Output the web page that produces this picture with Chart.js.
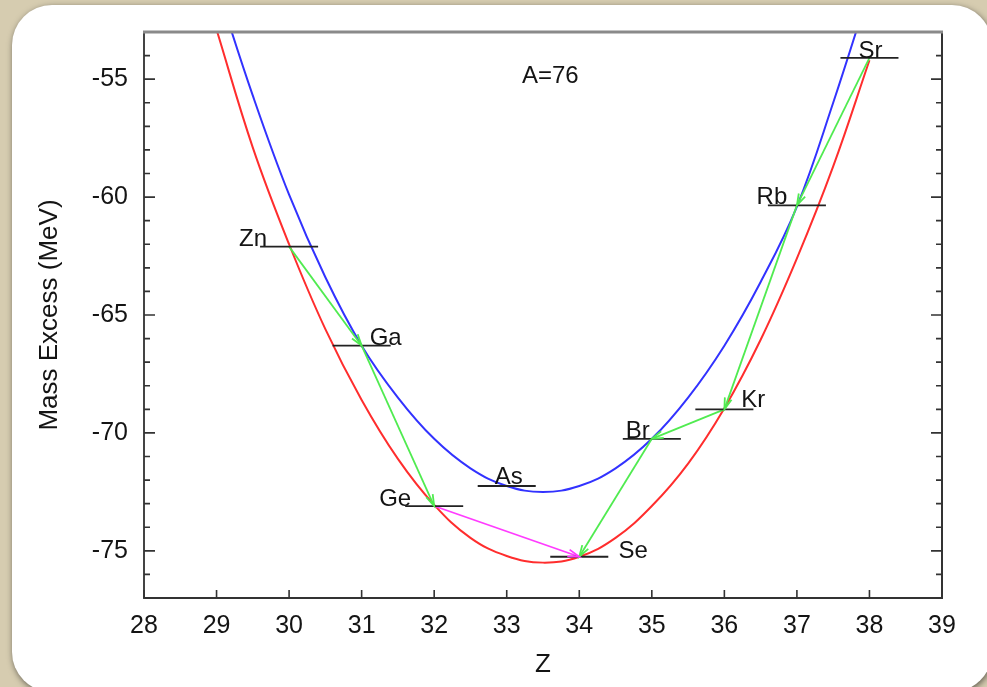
<!DOCTYPE html>
<html>
<head>
<meta charset="utf-8">
<script src="https://cdn.jsdelivr.net/npm/chart.js@4.4.1/dist/chart.umd.min.js"></script>
<style>
  html, body { margin: 0; padding: 0; }
  body { width: 987px; height: 687px; background: #d6ccb0; overflow: hidden; position: relative; }
  #panel { position: absolute; left: 12px; top: 5px; width: 980px; height: 687px; background: #fff;
           border-radius: 40px; box-shadow: 1px 2px 6px rgba(0,0,0,0.55); }
  #wrap { position: absolute; left: 0; top: 0; width: 987px; height: 687px; }
  #massChart { filter: blur(0.5px); }
</style>
</head>
<body>
<div id="panel"></div>
<div id="wrap"><canvas id="massChart" width="987" height="687"></canvas></div>
<script>
// isobars A=76
let elements = ["Zn", "Ga", "Ge", "As", "Se", "Br", "Kr", "Rb", "Sr"];
let zValues = [30, 31, 32, 33, 34, 35, 36, 37, 38];
let massExcess = [-62.1, -66.3, -73.1, -72.25, -75.25, -70.25, -69.0, -60.35, -54.1];

// parabolas
let zCurve = [29, 29.5, 30, 30.5, 31, 31.5, 32, 32.5, 33, 33.5, 34, 34.5, 35, 35.5, 36, 36.5, 37, 37.5, 38];
let evenEven = [-52.9, -57.9, -62.0, -65.6, -68.6, -71.1, -73.05, -74.45, -75.22, -75.5, -75.25, -74.45, -73.1, -71.3, -68.95, -66.05, -62.6, -58.7, -54.2];
let oddOdd = [-51.0, -55.7, -59.9, -63.4, -66.3, -68.5, -70.25, -71.5, -72.25, -72.5, -72.25, -71.5, -70.25, -68.5, -66.3, -63.6, -60.4, -56.0, -51.2];

// decays, [from, to] as index in elements
let betaDecays = [[0, 1], [1, 2], [5, 4], [6, 5], [7, 6], [8, 7]];
let doubleBeta = [[2, 4]];

// label offsets in px from the level centre
let labelDX = [-36, 24, -39, 2, 54, -14, 29, -25, 1];
let labelDY = [-1, -1, 0, -2, 1, -1, -2, -1, 0];

let fontFam = "'Liberation Sans', Arial, sans-serif";
let textCol = "#141414";

let datasets = [];

elements.forEach(function(el, i) {
    datasets.push({
        data: [{x: zValues[i] - 0.4, y: massExcess[i]}, {x: zValues[i] + 0.4, y: massExcess[i]}],
        borderColor: "#222",
        borderWidth: 1.8,
        pointRadius: 0
    });
});

function arrowSet(pair, colore) {
    return {
        data: [{x: zValues[pair[0]], y: massExcess[pair[0]]}, {x: zValues[pair[1]], y: massExcess[pair[1]]}],
        borderColor: colore,
        borderWidth: 1.8,
        pointRadius: 0,
        arrow: true
    };
}
betaDecays.forEach(function(p) { datasets.push(arrowSet(p, "rgb(80,235,80)")); });
doubleBeta.forEach(function(p) { datasets.push(arrowSet(p, "rgb(255,60,255)")); });

datasets.push({
    data: zCurve.map(function(z, i) { return {x: z, y: oddOdd[i]}; }),
    borderColor: "rgb(50,50,255)",
    borderWidth: 2,
    pointRadius: 0,
    tension: 0.4
});
datasets.push({
    data: zCurve.map(function(z, i) { return {x: z, y: evenEven[i]}; }),
    borderColor: "rgb(255,45,45)",
    borderWidth: 2,
    pointRadius: 0,
    tension: 0.4
});

var framePlugin = {
    id: "frame",
    afterDatasetsDraw(chart) {
        const ctx = chart.ctx;
        const a = chart.chartArea;
        const x = chart.scales.x, y = chart.scales.y;

        // arrow heads
        chart.data.datasets.forEach(function(ds, i) {
            if (!ds.arrow) return;
            const pts = chart.getDatasetMeta(i).data;
            const p0 = pts[0], p1 = pts[1];
            const ang = Math.atan2(p1.y - p0.y, p1.x - p0.x);
            const len = 12, spread = 0.3;
            ctx.save();
            ctx.strokeStyle = ds.borderColor;
            ctx.lineWidth = 1.8;
            ctx.beginPath();
            ctx.moveTo(p1.x - len * Math.cos(ang - spread), p1.y - len * Math.sin(ang - spread));
            ctx.lineTo(p1.x, p1.y);
            ctx.lineTo(p1.x - len * Math.cos(ang + spread), p1.y - len * Math.sin(ang + spread));
            ctx.stroke();
            ctx.restore();
        });

        // element names
        ctx.save();
        ctx.fillStyle = textCol;
        ctx.font = "24px " + fontFam;
        ctx.textAlign = "center";
        ctx.textBaseline = "alphabetic";
        elements.forEach(function(el, i) {
            ctx.fillText(el, x.getPixelForValue(zValues[i]) + labelDX[i], y.getPixelForValue(massExcess[i]) + labelDY[i]);
        });
        ctx.textBaseline = "middle";
        ctx.fillText("A=76", x.getPixelForValue(33.6), y.getPixelForValue(-54.9));
        ctx.restore();

        // inside ticks
        ctx.save();
        ctx.strokeStyle = "#333";
        ctx.lineWidth = 1.6;
        ctx.beginPath();
        y.ticks.forEach(function(t) {
            const py = y.getPixelForValue(t.value);
            const l = t.value % 5 === 0 ? 11 : 6;
            ctx.moveTo(a.left, py); ctx.lineTo(a.left + l, py);
            ctx.moveTo(a.right, py); ctx.lineTo(a.right - l, py);
        });
        x.ticks.forEach(function(t) {
            const px = x.getPixelForValue(t.value);
            ctx.moveTo(px, a.bottom); ctx.lineTo(px, a.bottom - 8);
        });
        ctx.stroke();
        ctx.lineWidth = 2;
        ctx.beginPath();
        ctx.moveTo(a.right, a.top); ctx.lineTo(a.right, a.bottom);
        ctx.stroke();
        ctx.strokeStyle = "#8a8a8a";
        ctx.lineWidth = 3;
        ctx.beginPath();
        ctx.moveTo(a.left - 1, a.top); ctx.lineTo(a.right + 1, a.top);
        ctx.stroke();
        ctx.restore();
    }
};

var ctx = document.getElementById("massChart").getContext("2d");

var massChart = new Chart(ctx, {
    type: "scatter",
    data: { datasets: datasets },
    options: {
        responsive: false,
        animation: false,
        showLine: true,
        layout: { padding: { top: 32, right: 45, left: 0, bottom: 0 } },
        plugins: { legend: { display: false }, tooltip: { enabled: false } },
        scales: {
            x: {
                type: "linear",
                min: 28,
                max: 39,
                afterFit: function(s) { s.height = 89; },
                grid: { display: false, drawTicks: false },
                border: { display: true, color: "#333", width: 2 },
                ticks: { stepSize: 1, autoSkip: false, padding: 13, color: textCol, font: { family: fontFam, size: 25 } },
                title: { display: true, text: "Z", color: textCol, font: { family: fontFam, size: 26 }, padding: { bottom: 7 } }
            },
            y: {
                type: "linear",
                min: -77,
                max: -53,
                afterFit: function(s) { s.width = 144; },
                grid: { display: false, drawTicks: false },
                border: { display: true, color: "#444", width: 2 },
                ticks: {
                    stepSize: 1,
                    autoSkip: false,
                    padding: 16,
                    color: textCol,
                    font: { family: fontFam, size: 25 },
                    callback: function(v) { return v % 5 === 0 ? String(v) : ""; }
                },
                title: { display: true, text: "Mass Excess (MeV)", color: textCol, font: { family: fontFam, size: 26 }, padding: { top: 34 } }
            }
        }
    },
    plugins: [framePlugin]
});
</script>
</body>
</html>
